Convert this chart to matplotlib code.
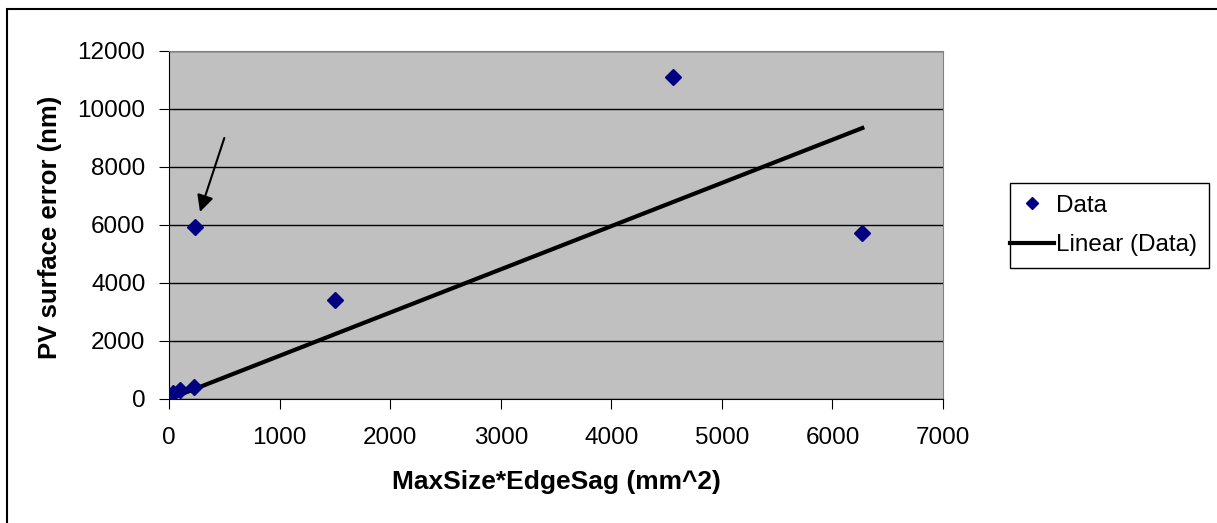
import matplotlib.pyplot as plt
import numpy as np
from matplotlib.patches import Rectangle

plt.rcParams['font.family'] = ['Liberation Sans', 'DejaVu Sans']

# data
size_sag = [40, 100, 230, 235, 1500, 4560, 6270]
pv_error = [200, 300, 400, 5930, 3400, 11100, 5720]
x_ticks = [0, 1000, 2000, 3000, 4000, 5000, 6000, 7000]
y_ticks = [0, 2000, 4000, 6000, 8000, 10000, 12000]

x = np.array(size_sag, dtype=float)
y = np.array(pv_error, dtype=float)
# Excel linear trendline with intercept set to 0
slope = np.sum(x * y) / np.sum(x * x)
x_fit = np.array([x.min(), x.max()])
y_fit = slope * x_fit

fig = plt.figure(figsize=(12.17, 5.23), dpi=100)
ax = fig.add_axes([0.1389, 0.2371, 0.6360, 0.6654])
ax.set_facecolor('#C0C0C0')

ax.plot(x, y, 'D', color='#000080', ms=8, label='Data', zorder=4)
ax.plot(x_fit, y_fit, color='black', lw=3, label='Linear (Data)', zorder=3)

ax.annotate('', xy=(280, 6450), xytext=(500, 9000),
            arrowprops=dict(arrowstyle='-|>', color='black', lw=1.5,
                            mutation_scale=25, shrinkA=0, shrinkB=0))

ax.set_xlim(0, 7000)
ax.set_ylim(0, 12000)
ax.set_xticks(x_ticks)
ax.set_yticks(y_ticks)
ax.tick_params(labelsize=17.5, direction='out', length=7, color='black')
ax.tick_params(axis='y', pad=10)
ax.tick_params(axis='x', pad=13)
ax.yaxis.grid(True, color='black', lw=1)
ax.set_axisbelow(True)
for s in ['top', 'right']:
    ax.spines[s].set_color('#808080')
ax.spines['left'].set_color('black')
ax.spines['bottom'].set_color('black')

fig.text(556 / 1217, 1 - 482 / 523, 'MaxSize*EdgeSag (mm^2)', fontsize=19,
         fontweight='bold', ha='center', va='center')
fig.text(50 / 1217, 1 - 227 / 523, 'PV surface error (nm)', fontsize=18.5,
         fontweight='bold', ha='center', va='center', rotation=90)

# legend entries without frame, frame drawn as its own box
ax.legend(loc='center left', bbox_to_anchor=(1010 / 1217, 1 - 225.5 / 523),
          bbox_transform=fig.transFigure, fontsize=17.5, frameon=False,
          borderpad=0, borderaxespad=0, handlelength=1.8, handletextpad=0.1,
          labelspacing=0.7, markerscale=0.75)
fig.patches.append(Rectangle((1010 / 1217, 1 - 268 / 523), 199 / 1217, 85 / 523,
                             transform=fig.transFigure, fill=False,
                             edgecolor='black', lw=1))

# outer chart border
fig.patches.append(Rectangle((7 / 1217, -0.1), 1.2, 1 - 9 / 523 + 0.1,
                             transform=fig.transFigure, fill=False,
                             edgecolor='black', lw=1.5))

fig.savefig('out.png', dpi=100)
